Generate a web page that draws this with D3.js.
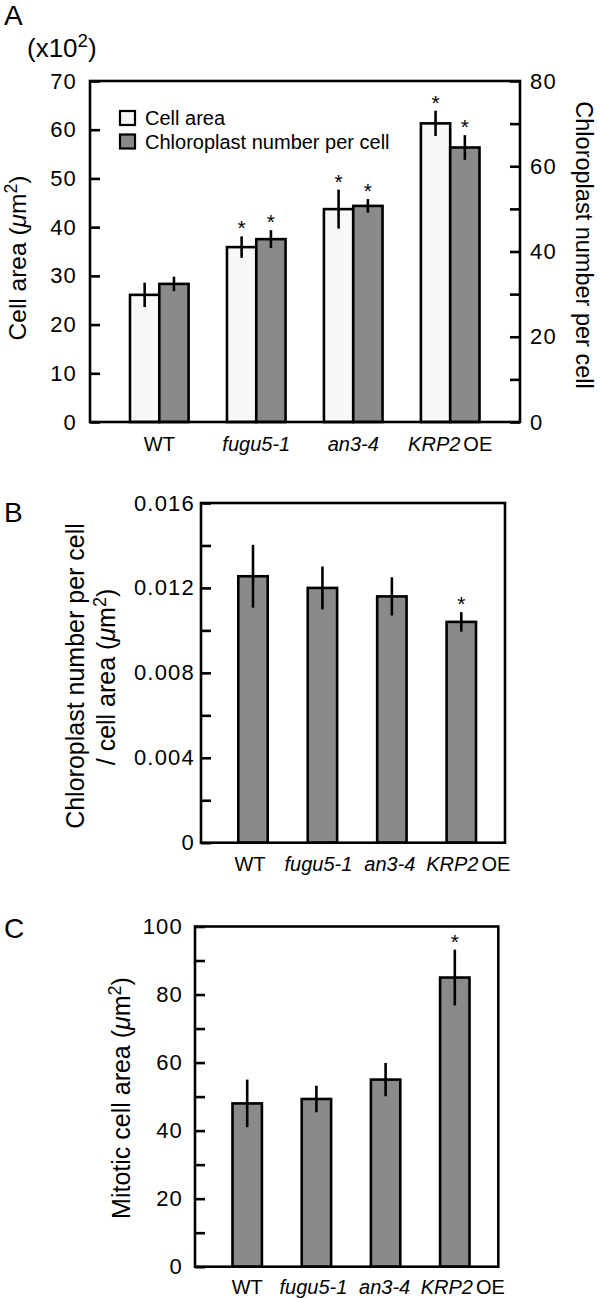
<!DOCTYPE html>
<html>
<head>
<meta charset="utf-8">
<script src="https://cdn.jsdelivr.net/npm/d3@7"></script>
<style>
  body { margin: 0; background: #fff; }
  svg { display: block; font-family: "Liberation Sans", Arial, Helvetica, sans-serif; }
</style>
</head>
<body>
<script>
// ---------- DATA ----------
const categories = ["WT", "fugu5-1", "an3-4", "KRP2 OE"];
// label parts: [text, italic]
const categoryLabelParts = [
  [["WT", false]],
  [["fugu5-1", true]],
  [["an3-4", true]],
  [["KRP2", true], ["OE", false]]
];

// Panel A
const cellArea      = [26.1, 35.9, 43.7, 61.3];   // (x10^2 µm^2)
const cellAreaErr   = [2.5, 2.2, 4.0, 2.6];
const cellAreaSig   = [false, true, true, true];
const chloroNum     = [32.4, 42.9, 50.7, 64.4];
const chloroNumErr  = [1.7, 2.1, 1.6, 2.9];
const chloroNumSig  = [false, true, true, true];
const aLeftTicks    = [0, 10, 20, 30, 40, 50, 60, 70];
const aRightTicks   = [0, 10, 20, 30, 40, 50, 60, 70, 80];
const aRightLabels  = [0, 20, 40, 60, 80];
const legendLabels  = ["Cell area", "Chloroplast number per cell"];

// Panel B
const ratio     = [0.01255, 0.0120, 0.0116, 0.0104];
const ratioErr  = [0.00148, 0.00101, 0.0009, 0.00046];
const ratioSig  = [false, false, false, true];
const bTicks    = [0, 0.002, 0.004, 0.006, 0.008, 0.010, 0.012, 0.014, 0.016];
const bLabels   = [0, 0.004, 0.008, 0.012, 0.016];

// Panel C
const mitotic    = [48, 49.3, 55, 85];
const mitoticErr = [7.0, 3.9, 4.9, 8.2];
const mitoticSig = [false, false, false, true];
const cTicks     = [0, 10, 20, 30, 40, 50, 60, 70, 80, 90, 100];
const cLabels    = [0, 20, 40, 60, 80, 100];

// ---------- STYLE ----------
const WHITE_FILL = "#f8f8f8";
const GRAY_FILL = "#8a8a8a";
const SW = 2.6;
const TICK_FONT = 22;

const svg = d3.select("body").append("svg").attr("width", 600).attr("height", 1299);

function frame(x0, x1, y0, y1) {
  svg.append("rect").attr("x", x0).attr("y", y0).attr("width", x1 - x0).attr("height", y1 - y0)
    .attr("fill", "none").attr("stroke", "#000").attr("stroke-width", SW);
}

function styleAxis(g) {
  g.select(".domain").remove();
  g.selectAll(".tick line").attr("stroke", "#000").attr("stroke-width", SW);
  g.selectAll(".tick text").attr("fill", "#000")
    .style("font-size", TICK_FONT + "px")
    .style("letter-spacing", "1.2px")
    .style("font-family", "'Liberation Sans', Arial, sans-serif");
}

function fmtTick(labels, fmt) {
  return d => labels.some(l => Math.abs(l - d) < 1e-9) ? fmt(d) : "";
}

function bars(x, y, vals, errs, sigs, dx, bw, fill) {
  const g = svg.append("g");
  categories.forEach((c, i) => {
    const cx = x(c) + dx + bw / 2;
    g.append("rect")
      .attr("x", x(c) + dx).attr("y", y(vals[i]))
      .attr("width", bw).attr("height", y(0) - y(vals[i]))
      .attr("fill", fill).attr("stroke", "#000").attr("stroke-width", SW);
    g.append("line")
      .attr("x1", cx).attr("x2", cx)
      .attr("y1", y(vals[i] + errs[i])).attr("y2", y(vals[i] - errs[i]))
      .attr("stroke", "#000").attr("stroke-width", SW);
    if (sigs[i]) {
      g.append("text").attr("x", cx).attr("y", y(vals[i] + errs[i]) - 1)
        .attr("text-anchor", "middle").style("font-size", "21px").text("*");
    }
  });
}

function xLabels(x, baseline, shifts) {
  categories.forEach((c, i) => {
    const t = svg.append("text").attr("x", x(c) + (shifts ? shifts[i] : 0)).attr("y", baseline)
      .attr("text-anchor", "middle").style("font-size", "20px");
    categoryLabelParts[i].forEach((p, j) => {
      const ts = t.append("tspan").text(p[0]).style("font-style", p[1] ? "italic" : "normal");
      if (j > 0) ts.attr("dx", 3);
    });
  });
}

function umLabel(t, prefix) {
  t.append("tspan").text(prefix + " (");
  t.append("tspan").text("\u03BC").style("font-style", "italic");
  t.append("tspan").text("m");
  t.append("tspan").text("2").attr("dy", -9).style("font-size", "0.72em");
  t.append("tspan").text(")").attr("dy", 9);
}

function panelLetter(letter, x, y) {
  svg.append("text").attr("x", x).attr("y", y).style("font-size", "28px").text(letter);
}

// ================= PANEL A =================
{
  const x0 = 90, x1 = 520, yTop = 81, yBot = 422;
  const x = d3.scalePoint().domain(categories).range([159.3, 450.2]);
  const yL = d3.scaleLinear().domain([0, 70]).range([yBot, yTop]);
  const yR = d3.scaleLinear().domain([0, 80]).range([yBot, yTop]);
  const bw = 29.3;

  bars(x, yL, cellArea, cellAreaErr, cellAreaSig, -bw, bw, WHITE_FILL);
  bars(x, yR, chloroNum, chloroNumErr, chloroNumSig, 0, bw, GRAY_FILL);
  frame(x0, x1, yTop, yBot);

  svg.append("g").attr("transform", `translate(${x0},0)`)
    .call(d3.axisLeft(yL).tickValues(aLeftTicks).tickSizeInner(-10).tickSizeOuter(0)
      .tickPadding(13).tickFormat(d => d))
    .call(styleAxis);
  svg.append("g").attr("transform", `translate(${x1},0)`)
    .call(d3.axisRight(yR).tickValues(aRightTicks).tickSizeInner(-10).tickSizeOuter(0)
      .tickPadding(10).tickFormat(fmtTick(aRightLabels, d => d)))
    .call(styleAxis);

  xLabels(x, 450.5);

  // legend
  const leg = [[WHITE_FILL, 111], [GRAY_FILL, 134.5]];
  leg.forEach((l, i) => {
    svg.append("rect").attr("x", 120).attr("y", l[1]).attr("width", 15).attr("height", 14)
      .attr("fill", l[0]).attr("stroke", "#000").attr("stroke-width", 2.2);
    svg.append("text").attr("x", 145).attr("y", l[1] + 14).style("font-size", "20px").text(legendLabels[i]);
  });

  // axis titles
  const tl = svg.append("text").attr("transform", "translate(26,258) rotate(-90)")
    .attr("text-anchor", "middle").style("font-size", "24.5px");
  umLabel(tl, "Cell area");
  svg.append("text").attr("transform", "translate(576,245) rotate(90)")
    .attr("text-anchor", "middle").style("font-size", "23.5px").text("Chloroplast number per cell");

  // (x10^2)
  const mult = svg.append("text").attr("x", 27).attr("y", 57).style("font-size", "26px");
  mult.append("tspan").text("(x10");
  mult.append("tspan").text("2").attr("dy", -10).style("font-size", "0.72em");
  mult.append("tspan").text(")").attr("dy", 10);

  panelLetter("A", 4, 25);
}

// ================= PANEL B =================
{
  const x0 = 201, x1 = 505, yTop = 503, yBot = 842.7;
  const x = d3.scalePoint().domain(categories).range([253, 461.3]);
  const y = d3.scaleLinear().domain([0, 0.016]).range([yBot, yTop]);
  const bw = 29.4;

  bars(x, y, ratio, ratioErr, ratioSig, -bw / 2, bw, GRAY_FILL);
  frame(x0, x1, yTop, yBot);

  svg.append("g").attr("transform", `translate(${x0},0)`)
    .call(d3.axisLeft(y).tickValues(bTicks).tickSizeInner(-10).tickSizeOuter(0)
      .tickPadding(6).tickFormat(fmtTick(bLabels, d => d === 0 ? "0" : d3.format(".3f")(d))))
    .call(styleAxis);

  xLabels(x, 870.5, [-3, -4, -2, 7]);

  svg.append("text").attr("transform", "translate(83.5,676) rotate(-90)")
    .attr("text-anchor", "middle").style("font-size", "25px").text("Chloroplast number per cell");
  const t2 = svg.append("text").attr("transform", "translate(115,677) rotate(-90)")
    .attr("text-anchor", "middle").style("font-size", "25px");
  umLabel(t2, "/ cell area");

  panelLetter("B", 4, 522);
}

// ================= PANEL C =================
{
  const x0 = 195, x1 = 498.3, yTop = 926.5, yBot = 1266.7;
  const x = d3.scalePoint().domain(categories).range([247.2, 454.8]);
  const y = d3.scaleLinear().domain([0, 100]).range([yBot, yTop]);
  const bw = 29.4;

  bars(x, y, mitotic, mitoticErr, mitoticSig, -bw / 2, bw, GRAY_FILL);
  frame(x0, x1, yTop, yBot);

  svg.append("g").attr("transform", `translate(${x0},0)`)
    .call(d3.axisLeft(y).tickValues(cTicks).tickSizeInner(-10).tickSizeOuter(0)
      .tickPadding(12).tickFormat(fmtTick(cLabels, d => d)))
    .call(styleAxis);

  xLabels(x, 1294, [0, -3, -1, 8]);

  const t3 = svg.append("text").attr("transform", "translate(130,1098) rotate(-90)")
    .attr("text-anchor", "middle").style("font-size", "25px");
  umLabel(t3, "Mitotic cell area");

  panelLetter("C", 4, 938);
}
</script>
</body>
</html>
